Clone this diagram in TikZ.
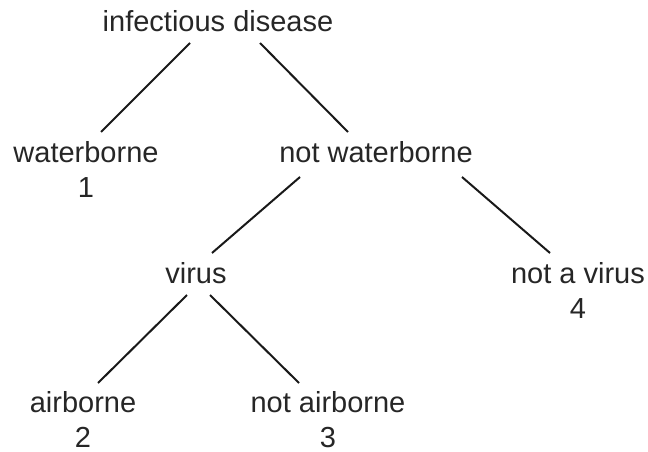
\documentclass[tikz,border=0pt]{standalone}
\usepackage{fontspec}
\setmainfont{Liberation Sans}
\usepackage{tikz}

\tikzset{
    label/.style={anchor=base, inner sep=0pt, align=center, text=black!85,
        font=\fontsize{29}{35}\selectfont},
    branch/.style={line width=2pt, black!90}
}

\begin{document}
\begin{tikzpicture}[x=1pt,y=-1pt]
    \useasboundingbox (0,0) rectangle (648,452);
    % base of a two-line node is the baseline of its number
    \node[label] (disease) at (218,32) {infectious disease};
    \node[label] (water) at (86,197) {waterborne\\1};
    \node[label] (nowater) at (376,162) {not waterborne};
    \node[label] (virus) at (196,283) {virus};
    \node[label] (novirus) at (578,318) {not a virus\\4};
    \node[label] (air) at (83,447) {airborne\\2};
    \node[label] (noair) at (328,447) {not airborne\\3};
    \draw[branch] ([xshift=-28pt,yshift=-11pt]disease.base) -- ([xshift=15pt,yshift=65pt]water.base);
    \draw[branch] ([xshift=42pt,yshift=-11pt]disease.base) -- ([xshift=-28pt,yshift=30pt]nowater.base);
    \draw[branch] ([xshift=-76pt,yshift=-15pt]nowater.base) -- ([xshift=16pt,yshift=30pt]virus.base);
    \draw[branch] ([xshift=86pt,yshift=-15pt]nowater.base) -- ([xshift=-28pt,yshift=65pt]novirus.base);
    \draw[branch] ([xshift=-9pt,yshift=-12pt]virus.base) -- ([xshift=15pt,yshift=64pt]air.base);
    \draw[branch] ([xshift=14pt,yshift=-12pt]virus.base) -- ([xshift=-29pt,yshift=64pt]noair.base);
\end{tikzpicture}
\end{document}
